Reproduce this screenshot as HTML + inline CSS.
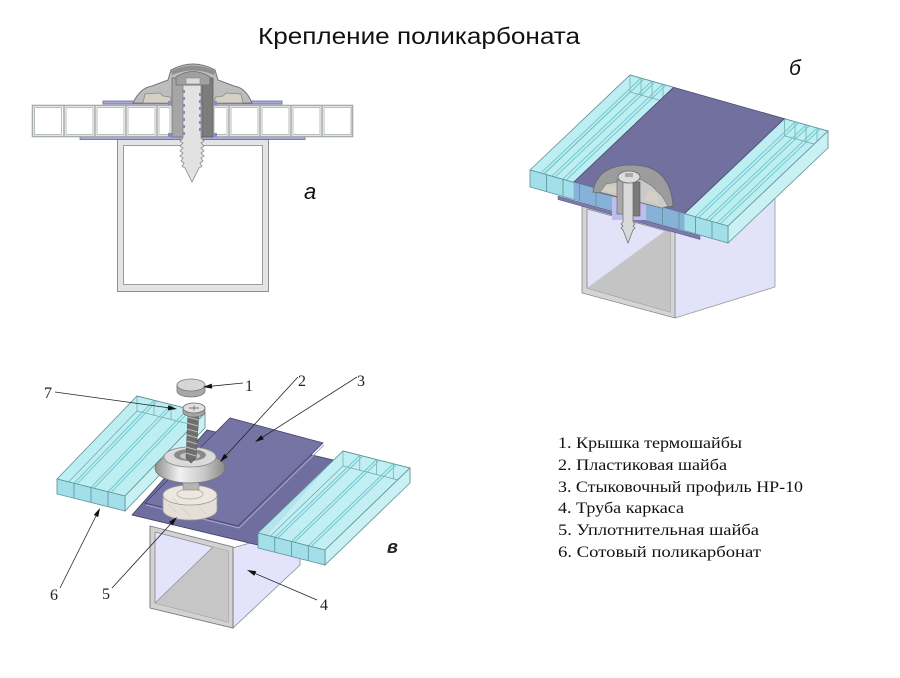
<!DOCTYPE html>
<html><head><meta charset="utf-8"><style>
html,body{margin:0;padding:0;background:#fff;}
svg{display:block;}
</style></head><body>
<svg width="900" height="678" viewBox="0 0 900 678" xmlns="http://www.w3.org/2000/svg">
<defs>
<linearGradient id="gw" x1="0" y1="0" x2="1" y2="0">
<stop offset="0" stop-color="#8e8e8e"/><stop offset="0.35" stop-color="#f2f2f2"/><stop offset="0.7" stop-color="#c8c8c8"/><stop offset="1" stop-color="#8a8a8a"/>
</linearGradient>
</defs>
<rect width="900" height="678" fill="#fff"/>
<text x="258" y="44" font-family="Liberation Sans, DejaVu Sans, sans-serif" font-size="23" fill="#111" textLength="322" lengthAdjust="spacingAndGlyphs">Крепление поликарбоната</text>

<!-- ============ Diagram a ============ -->
<g>
<rect x="117.5" y="139.5" width="151" height="152" fill="#e4e4e4" stroke="#8e8e8e"/>
<rect x="123.5" y="145.5" width="139" height="139" fill="#fff" stroke="#9c9c9c"/>
<rect x="103" y="101" width="179" height="3" fill="#a9a9dc" stroke="#6c6c9c" stroke-width="0.8"/>
<rect x="80" y="136.5" width="225" height="3" fill="#a9a9dc" stroke="#6c6c9c" stroke-width="0.8"/>
<rect x="32.5" y="105.5" width="140" height="31" fill="#fff" stroke="#a7ada7" stroke-width="1.6"/>
<g fill="none" stroke="#b9beb9" stroke-width="1">
<rect x="34.5" y="107.5" width="27" height="27"/><rect x="66" y="107.5" width="27" height="27"/><rect x="97" y="107.5" width="27" height="27"/><rect x="128" y="107.5" width="27" height="27"/><rect x="159" y="107.5" width="11" height="27"/>
<rect x="214" y="107.5" width="13" height="27"/><rect x="231" y="107.5" width="27" height="27"/><rect x="262" y="107.5" width="27" height="27"/><rect x="293" y="107.5" width="27" height="27"/><rect x="324" y="107.5" width="27" height="27"/>
</g>
<g stroke="#a7ada7" stroke-width="1.6">
<line x1="64" y1="105" x2="64" y2="137"/><line x1="95" y1="105" x2="95" y2="137"/><line x1="126" y1="105" x2="126" y2="137"/><line x1="157" y1="105" x2="157" y2="137"/>
<line x1="229" y1="105" x2="229" y2="137"/><line x1="260" y1="105" x2="260" y2="137"/><line x1="291" y1="105" x2="291" y2="137"/><line x1="322" y1="105" x2="322" y2="137"/>
</g>
<rect x="212.5" y="105.5" width="140" height="31" fill="none" stroke="#a7ada7" stroke-width="1.6"/>
<path d="M133,103 Q140,88 152,86 L168,80 L171,70 Q193,58 215,70 L218,80 L234,86 Q246,88 252,103 Z" fill="#bdbdbd" stroke="#767676"/>
<path d="M143,103 L145,94 L160,93 L163,96 L170,97 L172,103 Z" fill="#d6d0c4" stroke="#8a8a8a" stroke-width="0.8"/>
<path d="M243,103 L241,94 L226,93 L223,96 L216,97 L213,103 Z" fill="#d6d0c4" stroke="#8a8a8a" stroke-width="0.8"/>
<path d="M171,71 Q193,60 215,71 L214,75 Q193,66 172,75 Z" fill="#8f8f8f"/>
<rect x="172" y="78" width="11" height="59" fill="#a6a6a6" stroke="#6e6e6e" stroke-width="0.8"/>
<rect x="202" y="78" width="11" height="59" fill="#7c7c7c" stroke="#5e5e5e" stroke-width="0.8"/>
<g fill="#8a8ac0"><rect x="168" y="101" width="4" height="4"/><rect x="213" y="101" width="4" height="4"/><rect x="168" y="133" width="4" height="4"/><rect x="213" y="133" width="4" height="4"/></g>
<path d="M183,85 L183,138 L180,141 L183,143 L180,146 L183,148 L180,151 L183,153 L180,156 L183,158 L181,161 L184,163 L182,166 L185,168 L192,182 L199,168 L202,166 L200,163 L203,161 L201,158 L204,156 L201,153 L204,151 L201,148 L204,146 L201,143 L204,141 L201,138 L201,85 Z" fill="#e2e2e2" stroke="#8a8a8a" stroke-width="0.8"/>
<g fill="#8888bb"><rect x="183" y="90" width="2" height="3"/><rect x="183" y="97" width="2" height="3"/><rect x="183" y="104" width="2" height="3"/><rect x="183" y="111" width="2" height="3"/><rect x="183" y="118" width="2" height="3"/><rect x="183" y="125" width="2" height="3"/><rect x="183" y="132" width="2" height="3"/>
<rect x="199" y="93" width="2" height="3"/><rect x="199" y="100" width="2" height="3"/><rect x="199" y="107" width="2" height="3"/><rect x="199" y="114" width="2" height="3"/><rect x="199" y="121" width="2" height="3"/><rect x="199" y="128" width="2" height="3"/></g>
<path d="M176,85 L176,77 Q193,66 210,77 L210,85 Z" fill="#a0a0a0" stroke="#6e6e6e" stroke-width="0.8"/>
<rect x="186" y="78" width="14" height="6" fill="#dcdcdc" stroke="#888" stroke-width="0.6"/>
<text x="304" y="199" font-family="Liberation Sans, DejaVu Sans, sans-serif" font-style="italic" font-size="22" fill="#111">а</text>
</g>

<!-- ============ Diagram б ============ -->
<g>
<polygon points="675,229 775,195 775,287 675,318" fill="#e2e2f8" stroke="#999" stroke-width="0.8"/>
<polygon points="582,203 675,229 675,318 582,293" fill="#d4d4d4" stroke="#888" stroke-width="0.8"/>
<polygon points="587,209 670,232 670,312 587,288" fill="#e2e2f8" stroke="#888" stroke-width="0.8"/>
<polygon points="587,288 665,231 670,232 670,312" fill="#c4c4c4"/>
<polygon points="558,196 700,236 700,239.5 558,199.5" fill="#7a7ab0" stroke="#505080" stroke-width="0.5"/>
<polygon points="530,170 573.6,182.3 673.6,87.3 630,75" fill="#bdeef2" stroke="#5d8f96" stroke-width="0.8"/>
<polygon points="684.4,213.7 728,226 828,131 784.4,118.7" fill="#bdeef2" stroke="#5d8f96" stroke-width="0.8"/>
<!-- see-through back ends / hidden edges -->
<g fill="none" stroke="#5d8f96" stroke-width="0.7" stroke-opacity="0.8">
<polygon points="630,75 673.6,87.3 673.6,104.3 630,92"/>
<line x1="641" y1="78" x2="641" y2="95"/><line x1="652" y1="81" x2="652" y2="98"/><line x1="663" y1="84" x2="663" y2="101"/>
<line x1="530" y1="187" x2="630" y2="92"/>
<polygon points="784.4,118.7 828,131 828,148 784.4,135.7"/>
<line x1="795" y1="122" x2="795" y2="139"/><line x1="806" y1="125" x2="806" y2="142"/><line x1="817" y1="128" x2="817" y2="145"/>
</g>
<g stroke="#6cc3cb" stroke-width="0.9">
<line x1="540.9" y1="173.1" x2="640.9" y2="78.1"/><line x1="544" y1="174" x2="644" y2="79"/>
<line x1="551.8" y1="176.2" x2="651.8" y2="81.2"/><line x1="555" y1="177.1" x2="655" y2="82.1"/>
<line x1="562.7" y1="179.2" x2="662.7" y2="84.2"/><line x1="566" y1="180.1" x2="666" y2="85.1"/>
<line x1="695.3" y1="216.8" x2="795.3" y2="121.8"/><line x1="698.5" y1="217.7" x2="798.5" y2="122.7"/>
<line x1="706.2" y1="219.8" x2="806.2" y2="124.8"/><line x1="709.4" y1="220.7" x2="809.4" y2="125.7"/>
<line x1="717.1" y1="222.9" x2="817.1" y2="127.9"/><line x1="720.3" y1="223.8" x2="820.3" y2="128.8"/>
</g>
<polygon points="573.6,182.3 684.4,213.7 784.4,118.7 673.6,87.3" fill="#71709f" stroke="#4a4a72" stroke-width="0.8"/>
<polygon points="728,226 828,131 828,148 728,243" fill="#c9f1f4" stroke="#5d8f96" stroke-width="0.8"/>
<polygon points="530,170 728,226 728,243 530,187" fill="#a3dfe8" stroke="#5d8f96" stroke-width="0.8"/>
<polygon points="573.6,182.3 612,193.2 612,210.2 573.6,199.3" fill="#86b1d8"/>
<polygon points="646,202.8 684.4,213.7 684.4,230.7 646,219.8" fill="#86b1d8"/>
<g stroke="#5d8f96" stroke-width="0.8">
<line x1="546.5" y1="174.7" x2="546.5" y2="191.7"/><line x1="563" y1="179.3" x2="563" y2="196.3"/><line x1="579.5" y1="184" x2="579.5" y2="201"/><line x1="596" y1="188.7" x2="596" y2="205.7"/>
<line x1="662.5" y1="207.3" x2="662.5" y2="224.3"/><line x1="679" y1="212" x2="679" y2="229"/><line x1="695.5" y1="216.7" x2="695.5" y2="233.7"/><line x1="712" y1="221.3" x2="712" y2="238.3"/>
</g>
<rect x="612" y="190" width="34" height="30" fill="#bdbdf0"/>
<path d="M593,192 C596,172 612,165 632,165 C656,165 671,177 673,206 L662,208 L600,193 Z" fill="#9c9c9c" stroke="#666" stroke-width="0.8"/>
<path d="M600,192 L606,184 L618,182 L622,178 L642,180 L652,186 L662,196 L668,206 L662,208 Z" fill="#c9c9c9" stroke="#777" stroke-width="0.6"/>
<path d="M603,191 L606,186 L615,186 L618,193 Z" fill="#d6d0c4"/>
<path d="M644,200 L648,190 L657,194 L659,204 Z" fill="#d6d0c4"/>
<rect x="617" y="180" width="6" height="34" fill="#a8a8a8" stroke="#666" stroke-width="0.6"/>
<rect x="633" y="182" width="7" height="34" fill="#7a7a7a" stroke="#555" stroke-width="0.6"/>
<path d="M623,182 L623,222 L621,224 L623,226 L621,228 L623,230 L628,243 L633,230 L635,228 L633,226 L635,224 L633,222 L633,182 Z" fill="#d8d8d8" stroke="#777" stroke-width="0.8"/>
<ellipse cx="629" cy="177" rx="11" ry="6" fill="#dcdcdc" stroke="#666" stroke-width="0.8"/>
<rect x="625" y="173" width="8" height="4" fill="#aaa"/>
<text x="789" y="75" font-family="Liberation Sans, DejaVu Sans, sans-serif" font-style="italic" font-size="21" fill="#111">б</text>
</g>

<!-- ============ Diagram в ============ -->
<g>
<polygon points="233,548 300,528 300,565 233,628" fill="#e3e3fb" stroke="#888" stroke-width="0.8"/>
<polygon points="150,526 233,547 233,628 150,608" fill="#d2d2d2" stroke="#777" stroke-width="0.9"/>
<polygon points="155,532 228,551 228,622 155,603" fill="#e3e3fb" stroke="#888" stroke-width="0.8"/>
<polygon points="155,603 213,547 228,551 228,622" fill="#c6c6c6"/>
<line x1="155" y1="603" x2="213" y2="547" stroke="#888" stroke-width="0.6"/>
<polygon points="132,515 207,430 333,460 258,545" fill="#6f6e9e" stroke="#3f3f66" stroke-width="0.8"/>
<polygon points="145,503 230,418 323,443 238,526" fill="#7574a5" stroke="#44446c" stroke-width="0.8"/>
<line x1="146" y1="505" x2="239" y2="528" stroke="#a6a6cc" stroke-width="1"/>
<line x1="239" y1="528" x2="324" y2="445" stroke="#a6a6cc" stroke-width="1"/>
<!-- left panel -->
<polygon points="57,479 125,496 205,413 137,396" fill="#bdeef2" stroke="#5d8f96" stroke-width="0.8"/>
<g fill="none" stroke="#5d8f96" stroke-width="0.7" stroke-opacity="0.8">
<polygon points="137,396 205,413 205,428 137,411"/>
<line x1="154" y1="400" x2="154" y2="415"/><line x1="171" y1="404.5" x2="171" y2="419.5"/><line x1="188" y1="409" x2="188" y2="424"/>
<line x1="57" y1="494" x2="137" y2="411"/>
</g>
<g stroke="#6cc3cb" stroke-width="0.9">
<line x1="74" y1="483.3" x2="154" y2="400.3"/><line x1="77" y1="484" x2="157" y2="401"/>
<line x1="91" y1="487.5" x2="171" y2="404.5"/><line x1="94" y1="488.2" x2="174" y2="405.2"/>
<line x1="108" y1="491.8" x2="188" y2="408.8"/><line x1="111" y1="492.5" x2="191" y2="409.5"/>
</g>
<polygon points="125,496 205,413 205,428 125,511" fill="#c9f1f4" stroke="#5d8f96" stroke-width="0.8"/>
<polygon points="57,479 125,496 125,511 57,494" fill="#a3dfe8" stroke="#5d8f96" stroke-width="0.8"/>
<g stroke="#5d8f96" stroke-width="0.8">
<line x1="74" y1="483.3" x2="74" y2="498.3"/><line x1="91" y1="487.5" x2="91" y2="502.5"/><line x1="108" y1="491.8" x2="108" y2="506.8"/>
</g>
<!-- felt washer -->
<path d="M163,495 L163,510 A27,10 0 0 0 217,510 L217,495 Z" fill="#e4e0d8" stroke="#999" stroke-width="0.8"/>
<ellipse cx="190" cy="495" rx="27" ry="10" fill="#ece8e0" stroke="#999" stroke-width="0.8"/>
<ellipse cx="190" cy="494" rx="13" ry="5" fill="none" stroke="#aaa" stroke-width="0.8"/>
<g stroke="#cfc9bd" stroke-width="0.6"><line x1="168" y1="504" x2="176" y2="512"/><line x1="182" y1="508" x2="190" y2="516"/><line x1="198" y1="506" x2="206" y2="514"/><line x1="172" y1="498" x2="178" y2="503"/></g>
<rect x="183" y="478" width="16" height="12" fill="#b5b5b5" stroke="#888" stroke-width="0.6"/>
<!-- washer 2 -->
<ellipse cx="190" cy="468" rx="35" ry="15" fill="url(#gw)" stroke="#777" stroke-width="0.8"/>
<ellipse cx="190" cy="457" rx="26" ry="10" fill="#dadada" stroke="#888" stroke-width="0.8"/>
<ellipse cx="190" cy="455" rx="16" ry="6" fill="#8a8a8a"/>
<ellipse cx="190" cy="456" rx="10" ry="3.5" fill="#c4c4c4"/>
<!-- screw -->
<path d="M188,412 L186,458 L191,463 L196,458 L199,412 Z" fill="#6e6e6e" stroke="#555" stroke-width="0.6"/>
<g stroke="#bcbcbc" stroke-width="1"><line x1="187" y1="417" x2="199" y2="420"/><line x1="187" y1="423" x2="198" y2="426"/><line x1="187" y1="429" x2="198" y2="432"/><line x1="187" y1="435" x2="198" y2="438"/><line x1="187" y1="441" x2="197" y2="444"/><line x1="186" y1="447" x2="197" y2="450"/><line x1="186" y1="453" x2="196" y2="456"/></g>
<path d="M183,409 L183,412 A11,5 0 0 0 205,412 L205,409 Z" fill="#a5a5a5" stroke="#666" stroke-width="0.6"/>
<ellipse cx="194" cy="408" rx="11" ry="5" fill="#e0e0e0" stroke="#666" stroke-width="0.8"/>
<line x1="189" y1="408" x2="199" y2="408" stroke="#777"/><line x1="194" y1="405.5" x2="194" y2="410.5" stroke="#777"/>
<!-- cap -->
<path d="M177,385 L177,391 A14,6 0 0 0 205,391 L205,385 Z" fill="#a8a8a8" stroke="#777" stroke-width="0.8"/>
<ellipse cx="191" cy="385" rx="14" ry="6" fill="#d6d6d6" stroke="#777" stroke-width="0.8"/>
<!-- right panel -->
<polygon points="258,533 325,550 410,468 343,451" fill="#bdeef2" fill-opacity="0.92" stroke="#5d8f96" stroke-width="0.8"/>
<g fill="none" stroke="#5d8f96" stroke-width="0.7" stroke-opacity="0.8">
<polygon points="343,451 410,468 410,483 343,466"/>
<line x1="359.8" y1="455.3" x2="359.8" y2="470.3"/><line x1="376.5" y1="459.5" x2="376.5" y2="474.5"/><line x1="393.3" y1="463.8" x2="393.3" y2="478.8"/>
<line x1="258" y1="548" x2="343" y2="466"/>
</g>
<g stroke="#6cc3cb" stroke-width="0.9">
<line x1="274.8" y1="537.3" x2="359.8" y2="455.3"/><line x1="277.8" y1="538" x2="362.8" y2="456"/>
<line x1="291.5" y1="541.5" x2="376.5" y2="459.5"/><line x1="294.5" y1="542.2" x2="379.5" y2="460.2"/>
<line x1="308.3" y1="545.8" x2="393.3" y2="463.8"/><line x1="311.3" y1="546.5" x2="396.3" y2="464.5"/>
</g>
<polygon points="325,550 410,468 410,483 325,565" fill="#c9f1f4" stroke="#5d8f96" stroke-width="0.8"/>
<polygon points="258,533 325,550 325,565 258,548" fill="#a3dfe8" stroke="#5d8f96" stroke-width="0.8"/>
<g stroke="#5d8f96" stroke-width="0.8">
<line x1="274.8" y1="537.3" x2="274.8" y2="552.3"/><line x1="291.5" y1="541.5" x2="291.5" y2="556.5"/><line x1="308.3" y1="545.8" x2="308.3" y2="560.8"/>
</g>
<!-- leaders -->
<g stroke="#222" stroke-width="0.8" fill="none">
<line x1="55" y1="392" x2="170" y2="408"/>
<line x1="243" y1="383" x2="210" y2="386.3"/>
<line x1="298" y1="377" x2="225" y2="456.5"/>
<line x1="357" y1="377" x2="261" y2="438.2"/>
<line x1="317" y1="600" x2="254" y2="573"/>
<line x1="112" y1="588" x2="172" y2="522.5"/>
<line x1="60" y1="588" x2="97" y2="514"/>
</g>
<g fill="#111">
<polygon points="177,409 167.7,410.2 168.4,405.3"/>
<polygon points="203,387 211.7,383.6 212.2,388.6"/>
<polygon points="220,462 224.2,453.7 227.9,457.1"/>
<polygon points="255,442 261.2,435.1 263.9,439.3"/>
<polygon points="247,570 256.3,571.2 254.3,575.8"/>
<polygon points="177,517 172.8,525.3 169.1,521.9"/>
<polygon points="100,508 98.2,517.1 93.8,514.9"/>
</g>
<g font-family="Liberation Serif, DejaVu Serif, serif" font-size="16" fill="#222">
<text x="44" y="398">7</text>
<text x="245" y="391">1</text>
<text x="298" y="386">2</text>
<text x="357" y="386">3</text>
<text x="320" y="610">4</text>
<text x="102" y="599">5</text>
<text x="50" y="600">6</text>
</g>
<text x="387" y="553" font-family="Liberation Sans, DejaVu Sans, sans-serif" font-style="italic" font-weight="bold" font-size="18" fill="#222">в</text>
</g>

<!-- ============ Legend ============ -->
<g font-family="Liberation Serif, DejaVu Serif, serif" font-size="16" fill="#111">
<text x="558" y="448" textLength="184" lengthAdjust="spacingAndGlyphs">1. Крышка термошайбы</text>
<text x="558" y="470" textLength="169" lengthAdjust="spacingAndGlyphs">2. Пластиковая шайба</text>
<text x="558" y="492" textLength="245" lengthAdjust="spacingAndGlyphs">3. Стыковочный профиль НР-10</text>
<text x="558" y="513" textLength="126" lengthAdjust="spacingAndGlyphs">4. Труба каркаса</text>
<text x="558" y="535" textLength="201" lengthAdjust="spacingAndGlyphs">5. Уплотнительная шайба</text>
<text x="558" y="557" textLength="203" lengthAdjust="spacingAndGlyphs">6. Сотовый поликарбонат</text>
</g>
</svg>
</body></html>
